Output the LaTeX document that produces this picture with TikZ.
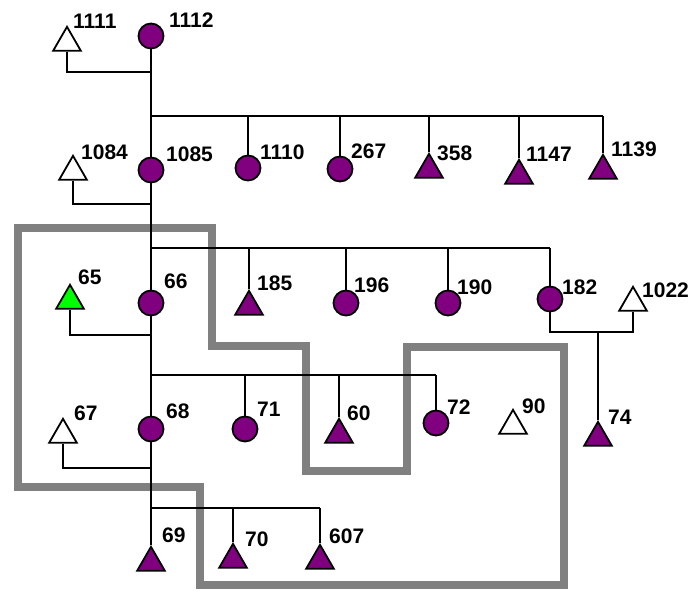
\documentclass[tikz,border=0pt]{standalone}
\usepackage{fontspec}
\setmainfont{Liberation Sans}
\usetikzlibrary{shapes.geometric}
\definecolor{pedpurple}{RGB}{128,0,128}
\definecolor{pedgreen}{RGB}{0,255,0}
\definecolor{pedgrey}{RGB}{128,128,128}
\tikzset{
 fem/.style={circle, draw=black, line width=1.8pt, fill=pedpurple, minimum size=25pt, inner sep=0pt},
 mal/.style={regular polygon, regular polygon sides=3, draw=black, line width=1.8pt, minimum size=32pt, inner sep=0pt, anchor=north, fill=pedpurple},
 malw/.style={mal, fill=white},
 malg/.style={mal, fill=pedgreen},
 lbl/.style={anchor=west, inner sep=0pt, font=\bfseries\fontsize{21}{21}\selectfont},
 link/.style={line width=1.8pt, black},
 greyband/.style={line width=8pt, draw=pedgrey}
}
\begin{document}
\begin{tikzpicture}[x=1pt,y=-1pt]
\useasboundingbox (0,0) rectangle (691,590);
% grey outline region
\draw[greyband] (18,228) -- (212,228) -- (212,346) -- (306,346) -- (306,471) -- (407,471) -- (407,347) -- (564,347) -- (564,585) -- (200,585) -- (200,487) -- (18,487) -- cycle;

% individuals
\node[malw] (n1111) at (67,25) {};
\node[fem] (n1112) at (151,36) {};
\node[malw] (n1084) at (73,154) {};
\node[fem] (n1085) at (151,170) {};
\node[fem] (n1110) at (248,168) {};
\node[fem] (n267) at (340,169) {};
\node[mal] (n358) at (429,152) {};
\node[mal] (n1147) at (519,158) {};
\node[mal] (n1139) at (603,153) {};
\node[malg] (n65) at (70,283) {};
\node[fem] (n66) at (151,303) {};
\node[mal] (n185) at (249,289) {};
\node[fem] (n196) at (346,303) {};
\node[fem] (n190) at (448,303) {};
\node[fem] (n182) at (550,299) {};
\node[malw] (n1022) at (633,285) {};
\node[malw] (n67) at (63,417) {};
\node[fem] (n68) at (151,429) {};
\node[fem] (n71) at (245,429) {};
\node[mal] (n60) at (339,417) {};
\node[fem] (n72) at (436,423) {};
\node[malw] (n90) at (513,408) {};
\node[mal] (n74) at (598,420) {};
\node[mal] (n69) at (151,545) {};
\node[mal] (n70) at (233,542) {};
\node[mal] (n607) at (320,543) {};

% junctions
\coordinate (m1) at (151,72);
\coordinate (s1) at (151,116);
\coordinate (s1r) at (603,116);
\coordinate (m2) at (151,204);
\coordinate (s2) at (151,248);
\coordinate (s2r) at (550,248);
\coordinate (m3) at (151,335);
\coordinate (s3) at (151,375);
\coordinate (s3r) at (436,375);
\coordinate (m4) at (151,468);
\coordinate (s4) at (151,508);
\coordinate (s4r) at (320,508);
\coordinate (m5) at (598,332);

% generation 1
\draw[link] (n1111.south) |- (m1) -- (n1112.south);
\draw[link] (m1) -- (s1) -- (s1r);
\foreach \c in {n1085,n1110,n267,n358,n1147,n1139}
  \draw[link] (\c.north) -- (\c.north |- s1);
% generation 2
\draw[link] (n1084.south) |- (m2) -- (n1085.south);
\draw[link] (m2) -- (s2) -- (s2r);
\foreach \c in {n66,n185,n196,n190,n182}
  \draw[link] (\c.north) -- (\c.north |- s2);
% generation 3
\draw[link] (n65.south) |- (m3) -- (n66.south);
\draw[link] (m3) -- (s3) -- (s3r);
\foreach \c in {n68,n71,n60,n72}
  \draw[link] (\c.north) -- (\c.north |- s3);
% generation 4
\draw[link] (n67.south) |- (m4) -- (n68.south);
\draw[link] (m4) -- (s4) -- (s4r);
\foreach \c in {n69,n70,n607}
  \draw[link] (\c.north) -- (\c.north |- s4);
% 182 x 1022
\draw[link] (n182.south) |- (m5) -| (n1022.south);
\draw[link] (m5) -- (n74.north);

% labels
\node[lbl] (l1111) at (73,21) {1111};
\node[lbl] (l1112) at (169,20) {1112};
\node[lbl] (l1084) at (81,152) {1084};
\node[lbl] (l1085) at (166,154) {1085};
\node[lbl] (l1110) at (260,152) {1110};
\node[lbl] (l267) at (351,151) {267};
\node[lbl] (l358) at (437,153) {358};
\node[lbl] (l1147) at (526,154) {1147};
\node[lbl] (l1139) at (611,149) {1139};
\node[lbl] (l65) at (78,277) {65};
\node[lbl] (l66) at (164,281) {66};
\node[lbl] (l185) at (257,283) {185};
\node[lbl] (l196) at (354,285) {196};
\node[lbl] (l190) at (457,287) {190};
\node[lbl] (l182) at (562,287) {182};
\node[lbl] (l1022) at (642,290) {1022};
\node[lbl] (l67) at (74,413) {67};
\node[lbl] (l68) at (166,411) {68};
\node[lbl] (l71) at (257,409) {71};
\node[lbl] (l60) at (347,413) {60};
\node[lbl] (l72) at (447,407) {72};
\node[lbl] (l90) at (522,406) {90};
\node[lbl] (l74) at (608,417) {74};
\node[lbl] (l69) at (162,535) {69};
\node[lbl] (l70) at (245,539) {70};
\node[lbl] (l607) at (329,536) {607};
\end{tikzpicture}
\end{document}
